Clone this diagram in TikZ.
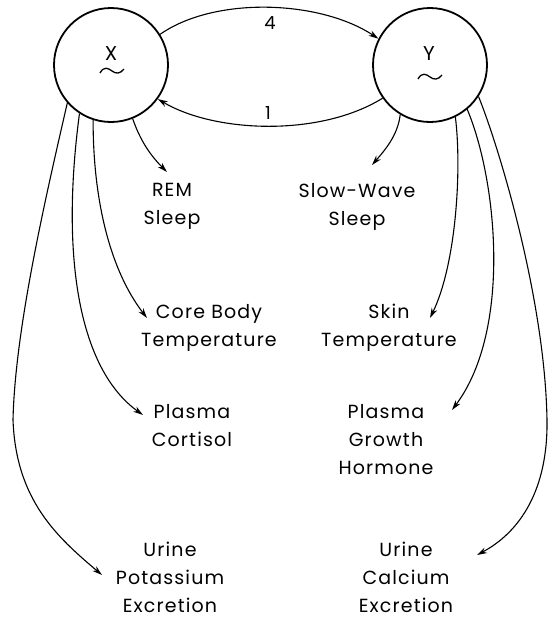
\documentclass[tikz,border=0pt]{standalone}
\usepackage{fontspec}
\setmainfont{Poppins}[LetterSpace=6.0]
\usetikzlibrary{arrows.meta}
\begin{document}
\begin{tikzpicture}[x=1pt,y=-1pt,
  state/.style={circle,draw,line width=1.8pt,minimum size=114pt,inner sep=0pt},
  letter/.style={inner sep=0pt,font=\fontsize{20}{20}\selectfont},
  squiggle/.style={line width=1.3pt},
  lbl/.style={align=center,inner sep=0pt,font=\fontsize{19}{28}\selectfont},
  conn/.style={line width=1.1pt,-{Stealth[length=10pt,width=6pt]}},
  num/.style={inner sep=0pt,font=\fontsize{18}{18}\selectfont}]
\useasboundingbox (0,0) rectangle (552,619);
\node[state] (X) at (111,65) {};
\node[state] (Y) at (430,65) {};
\node[letter] (xl) at (111,54) {X};
\node[letter] (yl) at (429,54) {Y};
\draw[squiggle] (100,73) .. controls (104,66) and (108,68) .. (112,71)
  .. controls (116,74) and (120,74) .. (124,69);
\draw[squiggle] (418,79) .. controls (422,72) and (426,74) .. (430,77)
  .. controls (434,80) and (438,80) .. (442,75);
\node[num] (n4) at (270,23) {4};
\node[num] (n1) at (268,113) {1};
\node[lbl] (rem)  at (172,206) {REM\\Sleep};
\node[lbl] (sws)  at (357,207) {Slow-Wave\\Sleep};
\node[lbl] (core) at (209,328) {Core Body\\Temperature};
\node[lbl] (skin) at (389,328) {Skin\\Temperature};
\node[lbl] (cort) at (192,426) {Plasma\\Cortisol};
\node[lbl] (gh)   at (386,440) {Plasma\\Growth\\Hormone};
\node[lbl] (pot)  at (170,577) {Urine\\Potassium\\Excretion};
\node[lbl] (cal)  at (406,577) {Urine\\Calcium\\Excretion};
\coordinate (remE)  at (167,172);
\coordinate (coreE) at (147,318);
\coordinate (cortE) at (143,415);
\coordinate (potE)  at (102,575);
\coordinate (swsE)  at (372,165);
\coordinate (skinE) at (430,318);
\coordinate (ghE)   at (452,410);
\coordinate (calE)  at (477,555);
\draw[conn] (X.32) .. controls (215,-4) and (320,0) .. (Y.153);
\draw[conn] (Y.-145) .. controls (320,137) and (215,133) .. (X.-36);
\draw[conn] (X.-68) .. controls (140,140) and (150,155) .. (remE);
\draw[conn] (X.-108) .. controls (93,200) and (110,270) .. (coreE);
\draw[conn] (X.-123) .. controls (60,260) and (80,370) .. (cortE);
\draw[conn] (X.-139) .. controls (45,200) and (15,330) .. (13,420)
  .. controls (16,500) and (57,537) .. (potE);
\draw[conn] (Y.-121) .. controls (398,135) and (385,150) .. (swsE);
\draw[conn] (Y.-64) .. controls (462,170) and (456,265) .. (skinE);
\draw[conn] (Y.-50) .. controls (497,180) and (512,330) .. (ghE);
\draw[conn] (Y.-33) .. controls (500,150) and (545,300) .. (547,420)
  .. controls (548,490) and (520,532) .. (calE);
\end{tikzpicture}
\end{document}
